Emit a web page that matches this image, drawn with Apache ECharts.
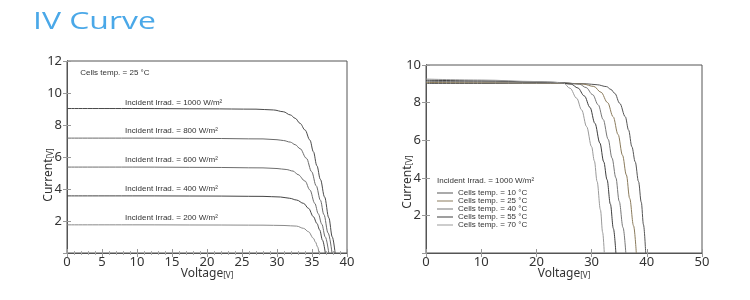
<!DOCTYPE html>
<html><head><meta charset="utf-8">
<script src="https://cdn.jsdelivr.net/npm/echarts@6/dist/echarts.min.js"></script>
<style>html,body{margin:0;padding:0;background:#fff}#c{width:750px;height:300px}</style>
</head><body><div id="c"></div>
<script>
// ---------- DATA ----------
// Left chart: I-V curves at different irradiance, cells temp 25 °C  [voltage V, current A]
const irrLabels = ['Incident Irrad. = 1000 W/m²','Incident Irrad. = 800 W/m²','Incident Irrad. = 600 W/m²','Incident Irrad. = 400 W/m²','Incident Irrad. = 200 W/m²'];
const irr1000 = [[0,9.03],[10,9.03],[20,9.01],[27,8.99],[29.5,8.94],[30.9,8.83],[31.9,8.63],[32.6,8.42],[33.3,8.1],[34.0,7.69],[34.7,7.06],[35.2,6.33],[35.7,5.45],[36.2,4.6],[36.8,3.5],[37.4,2.2],[37.9,1.0],[38.3,0]];
const irr800  = [[0,7.18],[10,7.18],[20,7.16],[28,7.13],[30,7.08],[30.9,7.03],[31.9,6.93],[32.6,6.77],[33.3,6.52],[34.2,5.92],[34.95,5.08],[35.6,4.2],[36.2,3.3],[36.7,2.4],[37.3,1.25],[37.86,0]];
const irr600  = [[0,5.37],[10,5.37],[20,5.35],[28,5.32],[30,5.28],[31.3,5.22],[32.3,5.12],[33.0,4.9],[34.0,4.5],[34.7,3.94],[35.4,3.1],[35.9,2.45],[36.4,1.8],[36.9,1.0],[37.4,0]];
const irr400  = [[0,3.57],[10,3.57],[20,3.56],[28,3.54],[30.5,3.5],[31.8,3.42],[32.8,3.31],[33.8,3.1],[34.5,2.79],[35.2,2.27],[35.7,1.85],[36.1,1.44],[36.5,0.8],[36.9,0]];
const irr200  = [[0,1.76],[10,1.76],[20,1.75],[28,1.74],[31,1.72],[32.8,1.68],[33.8,1.54],[34.5,1.33],[35.2,0.92],[35.5,0.68],[35.8,0.38],[36.0,0]];
const leftNote = 'Cells temp. = 25 °C';

// Right chart: I-V curves at 1000 W/m², different cell temperatures
const tempLabels = ['Cells temp. = 10 °C','Cells temp. = 25 °C','Cells temp. = 40 °C','Cells temp. = 55 °C','Cells temp. = 70 °C'];
const t10 = [[0,9.02],[10,9.02],[20,9.03],[25,9.03],[29,9.0],[31,8.95],[32.7,8.85],[33.5,8.7],[34.2,8.49],[35.1,7.96],[36.1,7.25],[36.7,6.54],[37.3,5.65],[37.9,4.85],[38.5,3.8],[39.0,2.7],[39.4,1.5],[39.8,0]];
const t25 = [[0,9.07],[10,9.06],[20,9.05],[25,9.04],[28.5,8.98],[30.4,8.86],[31.7,8.55],[32.9,8.0],[33.9,7.25],[34.8,6.3],[35.6,5.2],[36.3,4.15],[36.9,2.9],[37.6,1.45],[38.1,0]];
const t40 = [[0,9.13],[10,9.11],[20,9.08],[25,9.06],[27.8,8.98],[29.0,8.8],[30.2,8.42],[31.2,7.88],[32.1,7.1],[33.0,6.05],[33.7,5.05],[34.4,4.0],[35.0,2.75],[35.7,1.35],[36.2,0]];
const t55 = [[0,9.19],[10,9.16],[20,9.1],[24,9.07],[26.3,8.98],[27.5,8.78],[28.7,8.35],[29.7,7.75],[30.6,6.9],[31.5,5.85],[32.2,4.85],[32.8,3.9],[33.4,2.6],[33.95,1.3],[34.4,0]];
const t70 = [[0,9.25],[10,9.2],[20,9.12],[23,9.09],[24.9,9.04],[26.1,8.76],[27.3,8.23],[28.2,7.61],[29.1,6.72],[30.0,5.65],[30.5,4.9],[31.0,3.8],[31.6,2.3],[32.0,1.1],[32.3,0]];
const rightNote = 'Incident Irrad. = 1000 W/m²';
const pageTitle = 'IV Curve';

// ticks
const leftXTicks = [0,5,10,15,20,25,30,35,40];
const leftYTicks = [2,4,6,8,10,12];
const rightXTicks = [0,10,20,30,40,50];
const rightYTicks = [2,4,6,8,10];

// ---------- CHART ----------
const chart = echarts.init(document.getElementById('c'), null, {renderer:'canvas'});
const FONT = 'Noto Sans';
const AX = '#555';
const nameRich = { s: { fontSize: 8, fontFamily: FONT, color: '#333', padding:[4,0,0,0] } };

function xAxisCfg(grid, max, interval, minorSplit){
  return {
    type:'value', gridIndex:grid, min:0, max:max, interval:interval,
    name:'Voltage{s|[V]}', nameLocation:'middle', nameGap:15, nameMoveOverlap:false,
    nameTextStyle:{fontSize:12, fontFamily:FONT, color:'#333', rich:nameRich},
    axisLine:{show:true, lineStyle:{color:AX, width:1}},
    axisTick:{show:true, inside:true, length:4, lineStyle:{color:'#999'}},
    minorTick:{show:minorSplit>0, splitNumber:minorSplit||5, length:2, lineStyle:{color:'#aaa'}},
    axisLabel:{fontSize:13, fontFamily:FONT, color:'#333', margin:3},
    splitLine:{show:false}
  };
}
function xAxisTop(grid, max, interval, minorSplit){
  return {
    type:'value', gridIndex:grid, position:'top', min:0, max:max, interval:interval,
    axisLine:{show:true, lineStyle:{color:AX, width:1}},
    axisTick:{show:true, inside:true, length:4, lineStyle:{color:'#999'}},
    minorTick:{show:minorSplit>0, splitNumber:minorSplit||5, length:2, lineStyle:{color:'#aaa'}},
    axisLabel:{show:false}, splitLine:{show:false}
  };
}
function yAxisCfg(grid, max, pad, gap){
  return {
    type:'value', gridIndex:grid, min:0, max:max, interval:2,
    name:'Current{s|[V]}', nameLocation:'middle', nameGap:gap, nameMoveOverlap:false,
    nameTextStyle:{fontSize:12, fontFamily:FONT, color:'#333', rich:nameRich, padding:[0,pad,0,0]},
    axisLine:{show:true, lineStyle:{color:AX, width:1}},
    axisTick:{show:true, inside:true, length:4, lineStyle:{color:'#999'}},
    axisLabel:{fontSize:13, fontFamily:FONT, color:'#333', margin:5, showMinLabel:false},
    splitLine:{show:false}
  };
}
function yAxisRight(grid, max){
  return {
    type:'value', gridIndex:grid, position:'right', min:0, max:max, interval:2,
    axisLine:{show:true, lineStyle:{color:AX, width:1}},
    axisTick:{show:true, inside:true, length:4, lineStyle:{color:'#999'}},
    axisLabel:{show:false}, splitLine:{show:false}
  };
}

const leftCurves = [irr1000, irr800, irr600, irr400, irr200];
const leftColors = ['#4a4a4a','#6a6a6a','#6e6e6e','#444','#8a8a8a'];
const leftLabelY = [9.38, 7.62, 5.81, 4.0, 2.19];
const rightCurves = [t10, t25, t40, t55, t70];
const rightColors = ['#555','#8a7b5c','#777','#3e3e3e','#9a9a9a'];

const series = [];
leftCurves.forEach((d,i)=>{
  const s = {
    type:'line', name:'L'+i, xAxisIndex:0, yAxisIndex:0, data:d,
    showSymbol:false, symbol:'none', smooth:0.35, smoothMonotone:'x',
    lineStyle:{color:leftColors[i], width:1}, silent:true,
    markPoint:{ silent:true, symbol:'circle', symbolSize:0,
      data:[{ coord:[8.3, leftLabelY[i]], value:irrLabels[i] }],
      label:{ show:true, position:[0,0], align:'left', verticalAlign:'middle',
        formatter:p=>p.value, fontSize:8, fontFamily:'Liberation Sans', color:'#333' } }
  };
  if(i===0){
    s.markPoint.data.push({ coord:[1.9, 11.25], value:leftNote });
  }
  series.push(s);
});
rightCurves.forEach((d,i)=>{
  series.push({
    type:'line', name:tempLabels[i], xAxisIndex:2, yAxisIndex:2, data:d,
    showSymbol:false, symbol:'none', smooth:0.35, smoothMonotone:'x',
    lineStyle:{color:rightColors[i], width:1}, itemStyle:{color:rightColors[i]}, silent:true
  });
});

chart.setOption({
  animation:false,
  backgroundColor:'#fff',
  title:[
    { text:rightNote, left:432, top:172, textStyle:{fontSize:8, fontWeight:'normal', fontFamily:'Liberation Sans', color:'#333'} }
  ],
  graphic:[
    { type:'text', x:33, y:22.5, scaleX:1.33, scaleY:1, silent:true,
      style:{ text:pageTitle, fontSize:24, fontWeight:'normal', fontFamily:'Open Sans', fill:'#4aa8e8', verticalAlign:'middle', align:'left' } }
  ],
  grid:[
    { left:67, right:403, top:61, bottom:47, show:true, borderColor:AX, borderWidth:1 },
    { left:426, right:48, top:65, bottom:47, show:true, borderColor:AX, borderWidth:1 }
  ],
  xAxis:[ xAxisCfg(0,40,5,5), xAxisTop(0,40,5,5), xAxisCfg(1,50,10,0), xAxisTop(1,50,10,0) ],
  yAxis:[ yAxisCfg(0,12,36,12), yAxisRight(0,12), yAxisCfg(1,10,46,12), yAxisRight(1,10) ],
  legend:{
    show:true, orient:'vertical', left:432, top:184, itemGap:0,
    itemWidth:16, itemHeight:1, icon:'rect',
    data:tempLabels,
    textStyle:{fontSize:8, fontFamily:'Liberation Sans', color:'#333', lineHeight:8, padding:[0,0,0,0]},
    selectedMode:false
  },
  series:series
});
</script></body></html>
